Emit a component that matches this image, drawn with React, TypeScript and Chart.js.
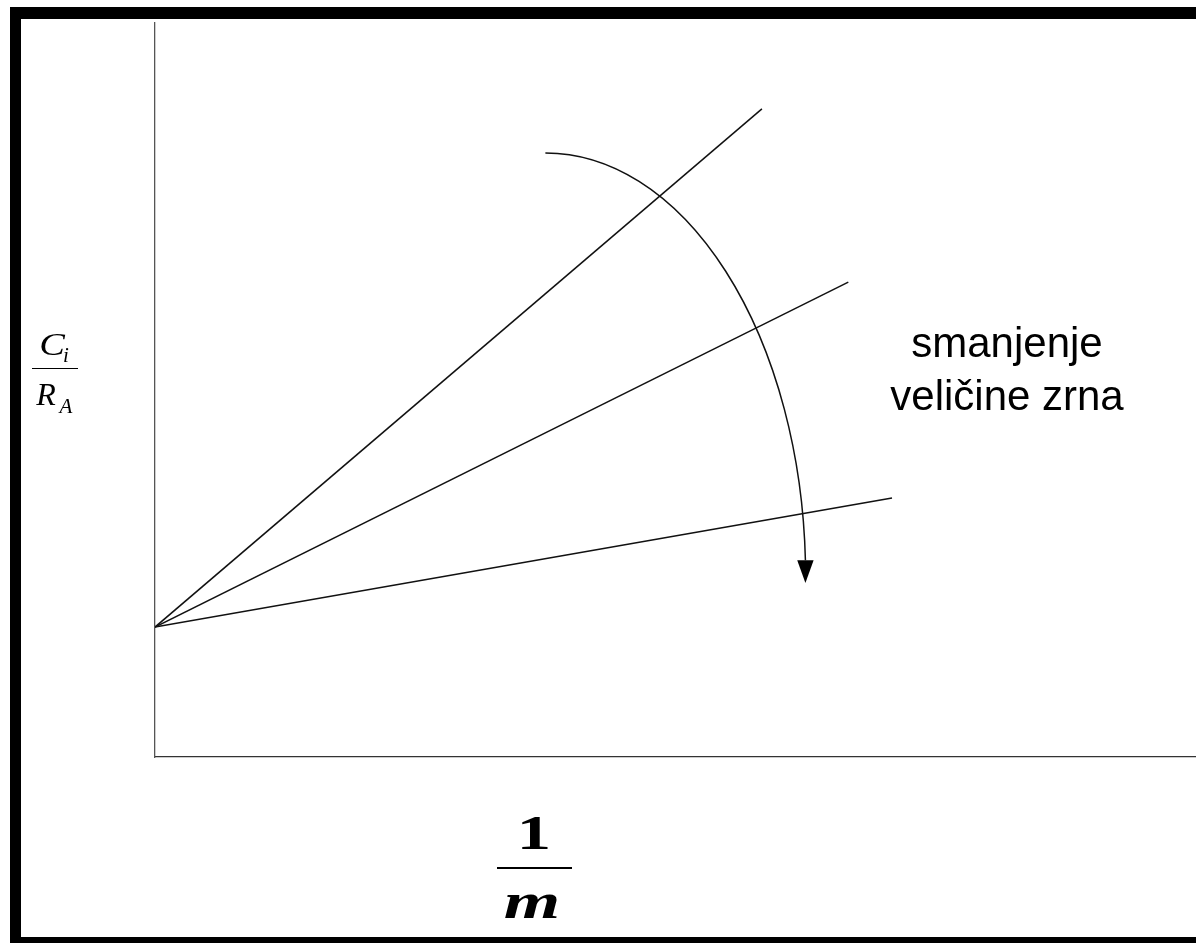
import { useEffect, useRef } from "react";
import { Chart, registerables, type Plugin } from "chart.js";

Chart.register(...registerables);

// axis range (no ticks shown, arbitrary units)
const X_RANGE = [0, 100];
const Y_RANGE = [0, 100];

// three lines share the same intercept on the y axis
const INTERCEPT = [0, 17.7];
const LINE_END_X = [58.3, 66.6, 70.8];
const LINE_END_Y = [88.3, 64.7, 35.3];

// curved arrow "smanjenje veličine zrna" (quarter ellipse, in data units)
const ARC_CENTER = [37.5, 24.5];
const ARC_RADIUS = [25.0, 57.8];
const ARROW_BASE_Y = 26.8;
const ARROW_TIP_Y = 23.7;

const INK = "#111";

const arcArrow: Plugin<"scatter"> = {
  id: "arcArrow",
  afterDatasetsDraw(chart) {
    const { ctx, scales } = chart;
    const xs = scales.x, ys = scales.y;
    const cx = xs.getPixelForValue(ARC_CENTER[0]);
    const cy = ys.getPixelForValue(ARC_CENTER[1]);
    const rx = xs.getPixelForValue(ARC_CENTER[0] + ARC_RADIUS[0]) - cx;
    const ry = cy - ys.getPixelForValue(ARC_CENTER[1] + ARC_RADIUS[1]);
    const baseY = ys.getPixelForValue(ARROW_BASE_Y);
    const tipY = ys.getPixelForValue(ARROW_TIP_Y);
    const endA = Math.asin(Math.max(-1, Math.min(1, (baseY - cy) / ry)));

    ctx.save();
    ctx.strokeStyle = INK;
    ctx.lineWidth = 1.5;
    ctx.beginPath();
    ctx.ellipse(cx, cy, rx, ry, 0, -Math.PI / 2, endA);
    ctx.stroke();

    const ax = cx + rx * Math.cos(endA);
    const half = (tipY - baseY) * 0.36;
    ctx.fillStyle = "#000";
    ctx.beginPath();
    ctx.moveTo(ax - half, baseY);
    ctx.lineTo(ax + half, baseY);
    ctx.lineTo(ax, tipY);
    ctx.closePath();
    ctx.fill();
    ctx.restore();
  },
};

const serif = "'Liberation Serif', 'Times New Roman', serif";
const sans = "'Liberation Sans', Arial, sans-serif";

function Glyph({ text, left, top, size, bold, italic, scaleX }: {
  text: string; left: number; top: number; size: number; bold?: boolean; italic?: boolean; scaleX?: number;
}) {
  return (
    <span style={{
      position: "absolute", left, top, fontFamily: serif, fontSize: size, lineHeight: 1,
      fontWeight: bold ? 700 : 400, fontStyle: italic ? "italic" : "normal",
      transform: `translateX(-50%) scaleX(${scaleX ?? 1})`, whiteSpace: "nowrap", color: "#000",
    }}>{text}</span>
  );
}

export default function App() {
  const canvasRef = useRef<HTMLCanvasElement>(null);

  useEffect(() => {
    if (!canvasRef.current) return;
    const datasets = LINE_END_X.map((xe, i) => ({
      data: [{ x: INTERCEPT[0], y: INTERCEPT[1] }, { x: xe, y: LINE_END_Y[i] }],
      showLine: true,
      borderColor: INK,
      borderWidth: 1.5,
      pointRadius: 0,
      fill: false,
    }));

    const chart = new Chart(canvasRef.current, {
      type: "scatter",
      data: { datasets },
      options: {
        responsive: false,
        animation: false,
        layout: { padding: { left: 155, top: 23, right: 0, bottom: 186 } },
        plugins: { legend: { display: false }, tooltip: { enabled: false } },
        scales: {
          x: {
            type: "linear", min: X_RANGE[0], max: X_RANGE[1],
            ticks: { display: false }, grid: { display: false, drawTicks: false },
            border: { display: true, color: "#333", width: 1.3 },
          },
          y: {
            type: "linear", min: Y_RANGE[0], max: Y_RANGE[1],
            ticks: { display: false }, grid: { display: false, drawTicks: false },
            border: { display: true, color: "#555", width: 1.3 },
          },
        },
      },
      plugins: [arcArrow],
    });
    return () => chart.destroy();
  }, []);

  return (
    <div style={{ position: "fixed", left: 0, top: 0, width: 1196, height: 943, background: "#fff", overflow: "hidden" }}>
      <div style={{
        position: "absolute", left: 10, top: 7, width: 1196, height: 936, boxSizing: "border-box",
        borderLeft: "11px solid #000", borderTop: "12px solid #000", borderBottom: "6px solid #000",
      }} />
      <canvas ref={canvasRef} width={1196} height={943}
        style={{ position: "absolute", left: 0, top: 0, width: 1196, height: 943 }} />

      {/* y label: C_i / R_A */}
      <Glyph text="C" left={52} top={328} size={32} italic scaleX={1.2} />
      <Glyph text="i" left={66} top={345} size={21} italic />
      <div style={{ position: "absolute", left: 32, top: 367.5, width: 46, height: 1.5, background: "#000" }} />
      <Glyph text="R" left={46} top={378} size={32} italic />
      <Glyph text="A" left={66} top={396} size={21} italic />

      {/* x label: 1 / m */}
      <Glyph text="1" left={534} top={808} size={49} bold scaleX={1.4} />
      <div style={{ position: "absolute", left: 497, top: 867, width: 75, height: 2, background: "#000" }} />
      <Glyph text="m" left={532} top={876} size={50} bold italic scaleX={1.45} />

      <div style={{
        position: "absolute", left: 1007, top: 316, transform: "translateX(-50%)", textAlign: "center",
        fontFamily: sans, fontSize: 42, lineHeight: "53px", color: "#000", whiteSpace: "nowrap",
      }}>
        smanjenje<br />veličine zrna
      </div>
    </div>
  );
}
